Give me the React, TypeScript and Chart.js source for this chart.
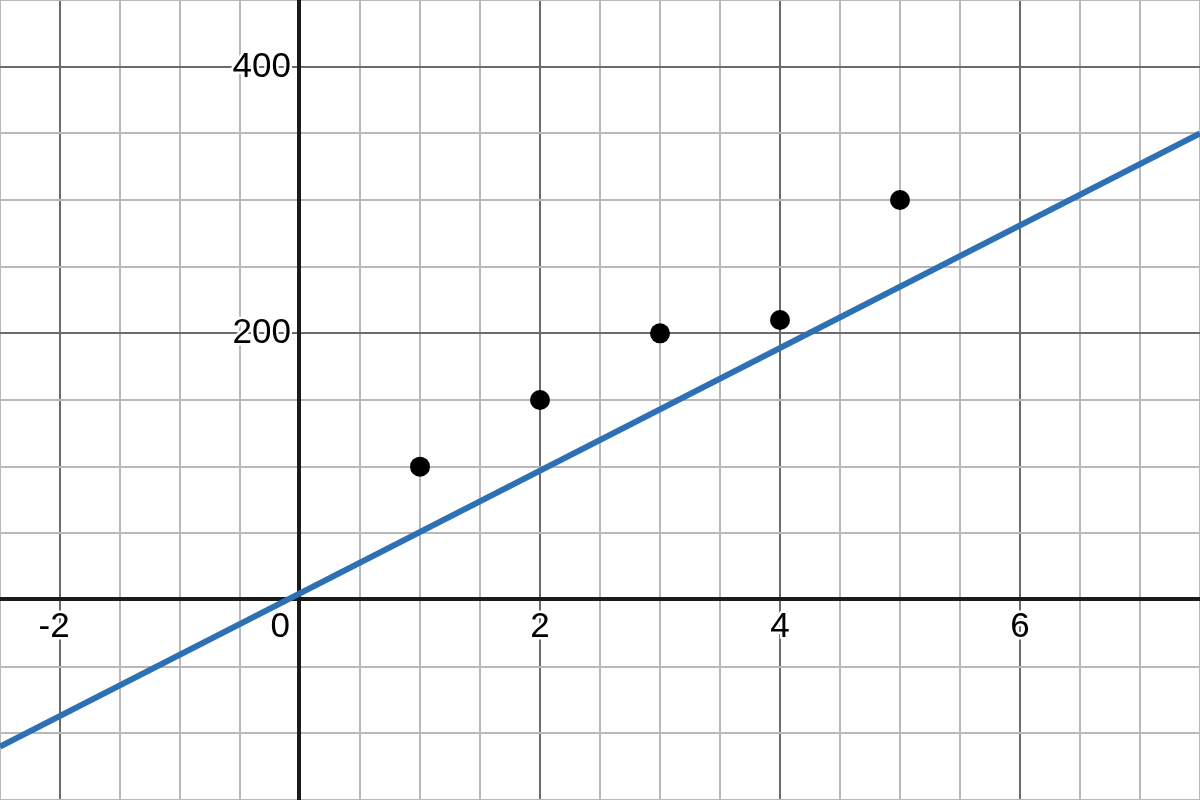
import React, { useRef, useEffect } from "react";
import { Chart, ChartOptions, Plugin, registerables } from "chart.js";

Chart.register(...registerables);

// data points
const pointX = [1, 2, 3, 4, 5];
const pointY = [100, 150, 200, 210, 300];

// straight line (end points at the edges of the view)
const lineX = [-2.5, 7.5];
const lineY = [-110, 350];

// view window and labels
const xRange = [-2.5, 7.5];
const yRange = [-150, 450];
const xTickLabels = [-2, 0, 2, 4, 6];
const yTickLabels = [200, 400];

const MAJOR = "#6b6b6b";
const MINOR = "#b8b8b8";
const FONT = '35px "Liberation Sans", Arial, sans-serif';

const axesPlugin: Plugin = {
  id: "desmosAxes",
  beforeDatasetsDraw(chart) {
    const { ctx, chartArea } = chart;
    const xs = chart.scales.x;
    const ys = chart.scales.y;
    const x0 = xs.getPixelForValue(0);
    const y0 = ys.getPixelForValue(0);

    ctx.save();
    // axis lines
    ctx.strokeStyle = "#1a1a1a";
    ctx.lineWidth = 4;
    ctx.beginPath();
    ctx.moveTo(chartArea.left, Math.round(y0) - 1);
    ctx.lineTo(chartArea.right, Math.round(y0) - 1);
    ctx.moveTo(Math.round(x0) - 1, chartArea.top);
    ctx.lineTo(Math.round(x0) - 1, chartArea.bottom);
    ctx.stroke();

    // labels with white halo
    ctx.font = FONT;
    ctx.textBaseline = "alphabetic";
    ctx.lineJoin = "round";
    ctx.strokeStyle = "#ffffff";
    ctx.lineWidth = 5;
    ctx.fillStyle = "#000000";

    const drawLabel = (text: string, x: number, y: number, align: CanvasTextAlign) => {
      ctx.textAlign = align;
      ctx.strokeText(text, x, y);
      ctx.fillText(text, x, y);
    };

    xTickLabels.forEach((v) => {
      const px = xs.getPixelForValue(v);
      if (v === 0) {
        drawLabel("0", px - 10, y0 + 37, "right");
        return;
      }
      const digits = String(Math.abs(v));
      const w = ctx.measureText(digits).width;
      drawLabel(String(v), px + w / 2, y0 + 37, "right");
    });

    yTickLabels.forEach((v) => {
      const py = ys.getPixelForValue(v);
      drawLabel(String(v), x0 - 9, py + 10, "right");
    });
    ctx.restore();
  },
};

const gridColor = (major: number) => (c: any) =>
  c.tick && Math.abs(c.tick.value % major) < 1e-9 ? MAJOR : MINOR;

const App: React.FC = () => {
  const chartRef = useRef<HTMLCanvasElement>(null);

  useEffect(() => {
    document.body.style.margin = "0";
    if (!chartRef.current) return;

    const options: ChartOptions<"scatter"> = {
      responsive: false,
      animation: false,
      devicePixelRatio: 1,
      layout: { padding: 0, autoPadding: false },
      plugins: {
        legend: { display: false },
        tooltip: { enabled: false },
      },
      scales: {
        x: {
          type: "linear",
          min: xRange[0],
          max: xRange[1],
          afterFit: (s: any) => {
            s.height = 0;
          },
          ticks: { display: false, stepSize: 0.5 },
          border: { display: false },
          grid: { drawTicks: false, lineWidth: 2, color: gridColor(2) },
        },
        y: {
          type: "linear",
          min: yRange[0],
          max: yRange[1],
          afterFit: (s: any) => {
            s.width = 0;
          },
          ticks: { display: false, stepSize: 50 },
          border: { display: false },
          grid: { drawTicks: false, lineWidth: 2, color: gridColor(200) },
        },
      },
    };

    const chart = new Chart(chartRef.current, {
      type: "scatter",
      data: {
        datasets: [
          {
            label: "line",
            data: lineX.map((x, i) => ({ x, y: lineY[i] })),
            showLine: true,
            borderColor: "#2d70b3",
            borderWidth: 6,
            pointRadius: 0,
            fill: false,
          },
          {
            label: "points",
            data: pointX.map((x, i) => ({ x, y: pointY[i] })),
            backgroundColor: "#000000",
            borderColor: "#000000",
            pointRadius: 10,
            borderWidth: 0,
          },
        ],
      },
      options,
      plugins: [axesPlugin],
    });

    return () => {
      chart.destroy();
    };
  }, []);

  return (
    <div style={{ width: 1200, height: 800, background: "#ffffff" }}>
      <canvas ref={chartRef} width={1200} height={800} style={{ display: "block" }} />
    </div>
  );
};

export default App;
